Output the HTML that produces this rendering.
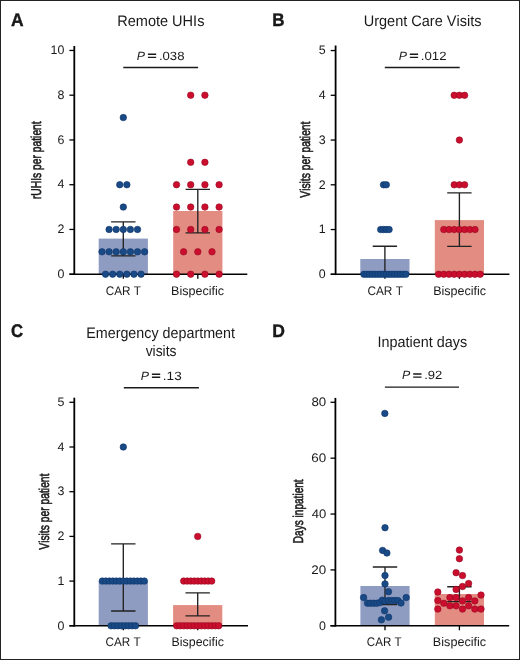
<!DOCTYPE html><html><head><meta charset="utf-8"><title>Figure</title><style>
html,body{margin:0;padding:0;background:#fff;}
body{width:520px;height:660px;overflow:hidden;position:relative;}
.frame{position:absolute;left:0;top:0;width:518px;height:658px;border:1px solid #232323;}
svg{position:absolute;left:0;top:0;display:block;will-change:transform;}
text{font-family:"Liberation Sans",sans-serif;fill:#1a1a1a;font-kerning:none;text-rendering:geometricPrecision;}
</style></head><body><svg width="520" height="660" viewBox="0 0 520 660">
<rect x="0" y="0" width="520" height="660" fill="#fff"/>
<rect x="98.70" y="238.60" width="49.20" height="35.60" fill="#8f9cc2"/>
<rect x="173.20" y="211.00" width="49.20" height="63.20" fill="#e38c81"/>
<path d="M123.30 221.90V255.80M111.10 221.90H135.50M111.10 255.80H135.50" stroke="#222" stroke-width="1.35" fill="none"/>
<path d="M197.80 189.40V232.90M185.60 189.40H210.00M185.60 232.90H210.00" stroke="#222" stroke-width="1.35" fill="none"/>
<path d="M74.30 46.00V275.00" stroke="#000" stroke-width="1.8" fill="none"/>
<path d="M69.40 274.20H247.30" stroke="#000" stroke-width="1.6" fill="none"/>
<path d="M69.40 274.20H74.30" stroke="#000" stroke-width="1.3" fill="none"/>
<path d="M69.40 229.45H74.30" stroke="#000" stroke-width="1.3" fill="none"/>
<path d="M69.40 184.70H74.30" stroke="#000" stroke-width="1.3" fill="none"/>
<path d="M69.40 139.95H74.30" stroke="#000" stroke-width="1.3" fill="none"/>
<path d="M69.40 95.20H74.30" stroke="#000" stroke-width="1.3" fill="none"/>
<path d="M69.40 50.45H74.30" stroke="#000" stroke-width="1.3" fill="none"/>
<path d="M123.30 274.20V278.70" stroke="#000" stroke-width="1.3" fill="none"/>
<path d="M197.80 274.20V278.70" stroke="#000" stroke-width="1.3" fill="none"/>
<text x="64.40" y="277.90" text-anchor="end" font-size="12.4">0</text>
<text x="64.40" y="233.15" text-anchor="end" font-size="12.4">2</text>
<text x="64.40" y="188.40" text-anchor="end" font-size="12.4">4</text>
<text x="64.40" y="143.65" text-anchor="end" font-size="12.4">6</text>
<text x="64.40" y="98.90" text-anchor="end" font-size="12.4">8</text>
<text x="64.40" y="54.15" text-anchor="end" font-size="12.4">10</text>
<path d="M123.30 67.50H198.10" stroke="#1a1a1a" stroke-width="1.4" fill="none"/>
<circle cx="123.30" cy="117.57" r="3.25" fill="#194a86" stroke="#0e3468" stroke-width="0.6"/>
<circle cx="119.75" cy="184.70" r="3.25" fill="#194a86" stroke="#0e3468" stroke-width="0.6"/>
<circle cx="126.85" cy="184.70" r="3.25" fill="#194a86" stroke="#0e3468" stroke-width="0.6"/>
<circle cx="123.30" cy="207.07" r="3.25" fill="#194a86" stroke="#0e3468" stroke-width="0.6"/>
<circle cx="109.10" cy="229.45" r="3.25" fill="#194a86" stroke="#0e3468" stroke-width="0.6"/>
<circle cx="116.20" cy="229.45" r="3.25" fill="#194a86" stroke="#0e3468" stroke-width="0.6"/>
<circle cx="123.30" cy="229.45" r="3.25" fill="#194a86" stroke="#0e3468" stroke-width="0.6"/>
<circle cx="130.40" cy="229.45" r="3.25" fill="#194a86" stroke="#0e3468" stroke-width="0.6"/>
<circle cx="137.50" cy="229.45" r="3.25" fill="#194a86" stroke="#0e3468" stroke-width="0.6"/>
<circle cx="102.00" cy="251.82" r="3.25" fill="#194a86" stroke="#0e3468" stroke-width="0.6"/>
<circle cx="109.10" cy="251.82" r="3.25" fill="#194a86" stroke="#0e3468" stroke-width="0.6"/>
<circle cx="116.20" cy="251.82" r="3.25" fill="#194a86" stroke="#0e3468" stroke-width="0.6"/>
<circle cx="123.30" cy="251.82" r="3.25" fill="#194a86" stroke="#0e3468" stroke-width="0.6"/>
<circle cx="130.40" cy="251.82" r="3.25" fill="#194a86" stroke="#0e3468" stroke-width="0.6"/>
<circle cx="137.50" cy="251.82" r="3.25" fill="#194a86" stroke="#0e3468" stroke-width="0.6"/>
<circle cx="144.60" cy="251.82" r="3.25" fill="#194a86" stroke="#0e3468" stroke-width="0.6"/>
<circle cx="105.55" cy="274.20" r="3.25" fill="#194a86" stroke="#0e3468" stroke-width="0.6"/>
<circle cx="112.65" cy="274.20" r="3.25" fill="#194a86" stroke="#0e3468" stroke-width="0.6"/>
<circle cx="119.75" cy="274.20" r="3.25" fill="#194a86" stroke="#0e3468" stroke-width="0.6"/>
<circle cx="126.85" cy="274.20" r="3.25" fill="#194a86" stroke="#0e3468" stroke-width="0.6"/>
<circle cx="133.95" cy="274.20" r="3.25" fill="#194a86" stroke="#0e3468" stroke-width="0.6"/>
<circle cx="141.05" cy="274.20" r="3.25" fill="#194a86" stroke="#0e3468" stroke-width="0.6"/>
<circle cx="190.70" cy="95.20" r="3.25" fill="#cc0e2e" stroke="#960a22" stroke-width="0.6"/>
<circle cx="204.90" cy="95.20" r="3.25" fill="#cc0e2e" stroke="#960a22" stroke-width="0.6"/>
<circle cx="190.70" cy="162.32" r="3.25" fill="#cc0e2e" stroke="#960a22" stroke-width="0.6"/>
<circle cx="204.90" cy="162.32" r="3.25" fill="#cc0e2e" stroke="#960a22" stroke-width="0.6"/>
<circle cx="176.50" cy="184.70" r="3.25" fill="#cc0e2e" stroke="#960a22" stroke-width="0.6"/>
<circle cx="190.70" cy="184.70" r="3.25" fill="#cc0e2e" stroke="#960a22" stroke-width="0.6"/>
<circle cx="204.90" cy="184.70" r="3.25" fill="#cc0e2e" stroke="#960a22" stroke-width="0.6"/>
<circle cx="219.10" cy="184.70" r="3.25" fill="#cc0e2e" stroke="#960a22" stroke-width="0.6"/>
<circle cx="176.50" cy="207.07" r="3.25" fill="#cc0e2e" stroke="#960a22" stroke-width="0.6"/>
<circle cx="190.70" cy="207.07" r="3.25" fill="#cc0e2e" stroke="#960a22" stroke-width="0.6"/>
<circle cx="204.90" cy="207.07" r="3.25" fill="#cc0e2e" stroke="#960a22" stroke-width="0.6"/>
<circle cx="219.10" cy="207.07" r="3.25" fill="#cc0e2e" stroke="#960a22" stroke-width="0.6"/>
<circle cx="176.50" cy="229.45" r="3.25" fill="#cc0e2e" stroke="#960a22" stroke-width="0.6"/>
<circle cx="190.70" cy="229.45" r="3.25" fill="#cc0e2e" stroke="#960a22" stroke-width="0.6"/>
<circle cx="204.90" cy="229.45" r="3.25" fill="#cc0e2e" stroke="#960a22" stroke-width="0.6"/>
<circle cx="219.10" cy="229.45" r="3.25" fill="#cc0e2e" stroke="#960a22" stroke-width="0.6"/>
<circle cx="183.60" cy="251.82" r="3.25" fill="#cc0e2e" stroke="#960a22" stroke-width="0.6"/>
<circle cx="197.80" cy="251.82" r="3.25" fill="#cc0e2e" stroke="#960a22" stroke-width="0.6"/>
<circle cx="212.00" cy="251.82" r="3.25" fill="#cc0e2e" stroke="#960a22" stroke-width="0.6"/>
<circle cx="176.50" cy="274.20" r="3.25" fill="#cc0e2e" stroke="#960a22" stroke-width="0.6"/>
<circle cx="190.70" cy="274.20" r="3.25" fill="#cc0e2e" stroke="#960a22" stroke-width="0.6"/>
<circle cx="204.90" cy="274.20" r="3.25" fill="#cc0e2e" stroke="#960a22" stroke-width="0.6"/>
<circle cx="219.10" cy="274.20" r="3.25" fill="#cc0e2e" stroke="#960a22" stroke-width="0.6"/>
<text x="136.82" y="59.60" font-size="12" font-style="italic" textLength="8.26" lengthAdjust="spacingAndGlyphs" >P</text>
<path d="M147.90 54.30H156.20M147.90 57.40H156.20" stroke="#1a1a1a" stroke-width="1.4" fill="none"/>
<text x="158.90" y="59.60" font-size="12" textLength="25.57" lengthAdjust="spacingAndGlyphs" >.038</text>
<text x="105.70" y="294.60" font-size="12.5" textLength="35.27" lengthAdjust="spacingAndGlyphs" >CAR T</text>
<text x="171.07" y="294.60" font-size="12.5" textLength="52.96" lengthAdjust="spacingAndGlyphs" >Bispecific</text>
<rect x="360.30" y="259.00" width="49.20" height="15.30" fill="#8f9cc2"/>
<rect x="434.80" y="220.10" width="49.20" height="54.20" fill="#e38c81"/>
<path d="M384.90 246.20V274.30M372.70 246.20H397.10M372.70 274.30H397.10" stroke="#222" stroke-width="1.35" fill="none"/>
<path d="M459.40 192.80V246.30M447.20 192.80H471.60M447.20 246.30H471.60" stroke="#222" stroke-width="1.35" fill="none"/>
<path d="M335.60 45.50V275.10" stroke="#000" stroke-width="1.8" fill="none"/>
<path d="M330.70 274.30H509.40" stroke="#000" stroke-width="1.6" fill="none"/>
<path d="M330.70 274.30H335.60" stroke="#000" stroke-width="1.3" fill="none"/>
<path d="M330.70 229.55H335.60" stroke="#000" stroke-width="1.3" fill="none"/>
<path d="M330.70 184.80H335.60" stroke="#000" stroke-width="1.3" fill="none"/>
<path d="M330.70 140.05H335.60" stroke="#000" stroke-width="1.3" fill="none"/>
<path d="M330.70 95.30H335.60" stroke="#000" stroke-width="1.3" fill="none"/>
<path d="M330.70 50.55H335.60" stroke="#000" stroke-width="1.3" fill="none"/>
<path d="M384.90 274.30V278.80" stroke="#000" stroke-width="1.3" fill="none"/>
<path d="M459.40 274.30V278.80" stroke="#000" stroke-width="1.3" fill="none"/>
<text x="325.70" y="278.00" text-anchor="end" font-size="12.4">0</text>
<text x="325.70" y="233.25" text-anchor="end" font-size="12.4">1</text>
<text x="325.70" y="188.50" text-anchor="end" font-size="12.4">2</text>
<text x="325.70" y="143.75" text-anchor="end" font-size="12.4">3</text>
<text x="325.70" y="99.00" text-anchor="end" font-size="12.4">4</text>
<text x="325.70" y="54.25" text-anchor="end" font-size="12.4">5</text>
<path d="M384.80 67.50H459.70" stroke="#1a1a1a" stroke-width="1.4" fill="none"/>
<circle cx="383.50" cy="184.80" r="3.25" fill="#194a86" stroke="#0e3468" stroke-width="0.6"/>
<circle cx="386.30" cy="184.80" r="3.25" fill="#194a86" stroke="#0e3468" stroke-width="0.6"/>
<circle cx="380.70" cy="229.55" r="3.25" fill="#194a86" stroke="#0e3468" stroke-width="0.6"/>
<circle cx="383.50" cy="229.55" r="3.25" fill="#194a86" stroke="#0e3468" stroke-width="0.6"/>
<circle cx="386.30" cy="229.55" r="3.25" fill="#194a86" stroke="#0e3468" stroke-width="0.6"/>
<circle cx="389.10" cy="229.55" r="3.25" fill="#194a86" stroke="#0e3468" stroke-width="0.6"/>
<circle cx="363.90" cy="274.30" r="3.25" fill="#194a86" stroke="#0e3468" stroke-width="0.6"/>
<circle cx="366.70" cy="274.30" r="3.25" fill="#194a86" stroke="#0e3468" stroke-width="0.6"/>
<circle cx="369.50" cy="274.30" r="3.25" fill="#194a86" stroke="#0e3468" stroke-width="0.6"/>
<circle cx="372.30" cy="274.30" r="3.25" fill="#194a86" stroke="#0e3468" stroke-width="0.6"/>
<circle cx="375.10" cy="274.30" r="3.25" fill="#194a86" stroke="#0e3468" stroke-width="0.6"/>
<circle cx="377.90" cy="274.30" r="3.25" fill="#194a86" stroke="#0e3468" stroke-width="0.6"/>
<circle cx="380.70" cy="274.30" r="3.25" fill="#194a86" stroke="#0e3468" stroke-width="0.6"/>
<circle cx="383.50" cy="274.30" r="3.25" fill="#194a86" stroke="#0e3468" stroke-width="0.6"/>
<circle cx="386.30" cy="274.30" r="3.25" fill="#194a86" stroke="#0e3468" stroke-width="0.6"/>
<circle cx="389.10" cy="274.30" r="3.25" fill="#194a86" stroke="#0e3468" stroke-width="0.6"/>
<circle cx="391.90" cy="274.30" r="3.25" fill="#194a86" stroke="#0e3468" stroke-width="0.6"/>
<circle cx="394.70" cy="274.30" r="3.25" fill="#194a86" stroke="#0e3468" stroke-width="0.6"/>
<circle cx="397.50" cy="274.30" r="3.25" fill="#194a86" stroke="#0e3468" stroke-width="0.6"/>
<circle cx="400.30" cy="274.30" r="3.25" fill="#194a86" stroke="#0e3468" stroke-width="0.6"/>
<circle cx="403.10" cy="274.30" r="3.25" fill="#194a86" stroke="#0e3468" stroke-width="0.6"/>
<circle cx="405.90" cy="274.30" r="3.25" fill="#194a86" stroke="#0e3468" stroke-width="0.6"/>
<circle cx="454.20" cy="95.30" r="3.25" fill="#cc0e2e" stroke="#960a22" stroke-width="0.6"/>
<circle cx="459.40" cy="95.30" r="3.25" fill="#cc0e2e" stroke="#960a22" stroke-width="0.6"/>
<circle cx="464.60" cy="95.30" r="3.25" fill="#cc0e2e" stroke="#960a22" stroke-width="0.6"/>
<circle cx="459.40" cy="140.05" r="3.25" fill="#cc0e2e" stroke="#960a22" stroke-width="0.6"/>
<circle cx="454.20" cy="184.80" r="3.25" fill="#cc0e2e" stroke="#960a22" stroke-width="0.6"/>
<circle cx="459.40" cy="184.80" r="3.25" fill="#cc0e2e" stroke="#960a22" stroke-width="0.6"/>
<circle cx="464.60" cy="184.80" r="3.25" fill="#cc0e2e" stroke="#960a22" stroke-width="0.6"/>
<circle cx="443.80" cy="229.55" r="3.25" fill="#cc0e2e" stroke="#960a22" stroke-width="0.6"/>
<circle cx="449.00" cy="229.55" r="3.25" fill="#cc0e2e" stroke="#960a22" stroke-width="0.6"/>
<circle cx="454.20" cy="229.55" r="3.25" fill="#cc0e2e" stroke="#960a22" stroke-width="0.6"/>
<circle cx="459.40" cy="229.55" r="3.25" fill="#cc0e2e" stroke="#960a22" stroke-width="0.6"/>
<circle cx="464.60" cy="229.55" r="3.25" fill="#cc0e2e" stroke="#960a22" stroke-width="0.6"/>
<circle cx="469.80" cy="229.55" r="3.25" fill="#cc0e2e" stroke="#960a22" stroke-width="0.6"/>
<circle cx="475.00" cy="229.55" r="3.25" fill="#cc0e2e" stroke="#960a22" stroke-width="0.6"/>
<circle cx="438.60" cy="274.30" r="3.25" fill="#cc0e2e" stroke="#960a22" stroke-width="0.6"/>
<circle cx="443.80" cy="274.30" r="3.25" fill="#cc0e2e" stroke="#960a22" stroke-width="0.6"/>
<circle cx="449.00" cy="274.30" r="3.25" fill="#cc0e2e" stroke="#960a22" stroke-width="0.6"/>
<circle cx="454.20" cy="274.30" r="3.25" fill="#cc0e2e" stroke="#960a22" stroke-width="0.6"/>
<circle cx="459.40" cy="274.30" r="3.25" fill="#cc0e2e" stroke="#960a22" stroke-width="0.6"/>
<circle cx="464.60" cy="274.30" r="3.25" fill="#cc0e2e" stroke="#960a22" stroke-width="0.6"/>
<circle cx="469.80" cy="274.30" r="3.25" fill="#cc0e2e" stroke="#960a22" stroke-width="0.6"/>
<circle cx="475.00" cy="274.30" r="3.25" fill="#cc0e2e" stroke="#960a22" stroke-width="0.6"/>
<circle cx="480.20" cy="274.30" r="3.25" fill="#cc0e2e" stroke="#960a22" stroke-width="0.6"/>
<text x="398.72" y="59.60" font-size="12" font-style="italic" textLength="8.26" lengthAdjust="spacingAndGlyphs" >P</text>
<path d="M409.80 54.30H418.10M409.80 57.40H418.10" stroke="#1a1a1a" stroke-width="1.4" fill="none"/>
<text x="420.80" y="59.60" font-size="12" textLength="25.67" lengthAdjust="spacingAndGlyphs" >.012</text>
<text x="367.40" y="294.70" font-size="12.5" textLength="35.47" lengthAdjust="spacingAndGlyphs" >CAR T</text>
<text x="433.17" y="294.70" font-size="12.5" textLength="52.96" lengthAdjust="spacingAndGlyphs" >Bispecific</text>
<rect x="98.70" y="581.00" width="49.20" height="44.80" fill="#8f9cc2"/>
<rect x="173.10" y="605.10" width="49.20" height="20.70" fill="#e38c81"/>
<path d="M123.30 543.80V611.00M111.10 543.80H135.50M111.10 611.00H135.50" stroke="#222" stroke-width="1.35" fill="none"/>
<path d="M197.70 592.90V615.90M185.50 592.90H209.90M185.50 615.90H209.90" stroke="#222" stroke-width="1.35" fill="none"/>
<path d="M74.30 397.70V626.60" stroke="#000" stroke-width="1.8" fill="none"/>
<path d="M69.40 625.80H248.00" stroke="#000" stroke-width="1.6" fill="none"/>
<path d="M69.40 625.80H74.30" stroke="#000" stroke-width="1.3" fill="none"/>
<path d="M69.40 581.10H74.30" stroke="#000" stroke-width="1.3" fill="none"/>
<path d="M69.40 536.40H74.30" stroke="#000" stroke-width="1.3" fill="none"/>
<path d="M69.40 491.70H74.30" stroke="#000" stroke-width="1.3" fill="none"/>
<path d="M69.40 447.00H74.30" stroke="#000" stroke-width="1.3" fill="none"/>
<path d="M69.40 402.30H74.30" stroke="#000" stroke-width="1.3" fill="none"/>
<path d="M123.30 625.80V630.30" stroke="#000" stroke-width="1.3" fill="none"/>
<path d="M197.70 625.80V630.30" stroke="#000" stroke-width="1.3" fill="none"/>
<text x="64.40" y="629.50" text-anchor="end" font-size="12.4">0</text>
<text x="64.40" y="584.80" text-anchor="end" font-size="12.4">1</text>
<text x="64.40" y="540.10" text-anchor="end" font-size="12.4">2</text>
<text x="64.40" y="495.40" text-anchor="end" font-size="12.4">3</text>
<text x="64.40" y="450.70" text-anchor="end" font-size="12.4">4</text>
<text x="64.40" y="406.00" text-anchor="end" font-size="12.4">5</text>
<path d="M123.80 387.80H198.90" stroke="#1a1a1a" stroke-width="1.4" fill="none"/>
<circle cx="123.30" cy="447.00" r="3.25" fill="#194a86" stroke="#0e3468" stroke-width="0.6"/>
<circle cx="102.30" cy="581.10" r="3.25" fill="#194a86" stroke="#0e3468" stroke-width="0.6"/>
<circle cx="105.80" cy="581.10" r="3.25" fill="#194a86" stroke="#0e3468" stroke-width="0.6"/>
<circle cx="109.30" cy="581.10" r="3.25" fill="#194a86" stroke="#0e3468" stroke-width="0.6"/>
<circle cx="112.80" cy="581.10" r="3.25" fill="#194a86" stroke="#0e3468" stroke-width="0.6"/>
<circle cx="116.30" cy="581.10" r="3.25" fill="#194a86" stroke="#0e3468" stroke-width="0.6"/>
<circle cx="119.80" cy="581.10" r="3.25" fill="#194a86" stroke="#0e3468" stroke-width="0.6"/>
<circle cx="123.30" cy="581.10" r="3.25" fill="#194a86" stroke="#0e3468" stroke-width="0.6"/>
<circle cx="126.80" cy="581.10" r="3.25" fill="#194a86" stroke="#0e3468" stroke-width="0.6"/>
<circle cx="130.30" cy="581.10" r="3.25" fill="#194a86" stroke="#0e3468" stroke-width="0.6"/>
<circle cx="133.80" cy="581.10" r="3.25" fill="#194a86" stroke="#0e3468" stroke-width="0.6"/>
<circle cx="137.30" cy="581.10" r="3.25" fill="#194a86" stroke="#0e3468" stroke-width="0.6"/>
<circle cx="140.80" cy="581.10" r="3.25" fill="#194a86" stroke="#0e3468" stroke-width="0.6"/>
<circle cx="144.30" cy="581.10" r="3.25" fill="#194a86" stroke="#0e3468" stroke-width="0.6"/>
<circle cx="111.05" cy="625.80" r="3.25" fill="#194a86" stroke="#0e3468" stroke-width="0.6"/>
<circle cx="114.55" cy="625.80" r="3.25" fill="#194a86" stroke="#0e3468" stroke-width="0.6"/>
<circle cx="118.05" cy="625.80" r="3.25" fill="#194a86" stroke="#0e3468" stroke-width="0.6"/>
<circle cx="121.55" cy="625.80" r="3.25" fill="#194a86" stroke="#0e3468" stroke-width="0.6"/>
<circle cx="125.05" cy="625.80" r="3.25" fill="#194a86" stroke="#0e3468" stroke-width="0.6"/>
<circle cx="128.55" cy="625.80" r="3.25" fill="#194a86" stroke="#0e3468" stroke-width="0.6"/>
<circle cx="132.05" cy="625.80" r="3.25" fill="#194a86" stroke="#0e3468" stroke-width="0.6"/>
<circle cx="135.55" cy="625.80" r="3.25" fill="#194a86" stroke="#0e3468" stroke-width="0.6"/>
<circle cx="197.70" cy="536.40" r="3.25" fill="#cc0e2e" stroke="#960a22" stroke-width="0.6"/>
<circle cx="183.70" cy="581.10" r="3.25" fill="#cc0e2e" stroke="#960a22" stroke-width="0.6"/>
<circle cx="187.20" cy="581.10" r="3.25" fill="#cc0e2e" stroke="#960a22" stroke-width="0.6"/>
<circle cx="190.70" cy="581.10" r="3.25" fill="#cc0e2e" stroke="#960a22" stroke-width="0.6"/>
<circle cx="194.20" cy="581.10" r="3.25" fill="#cc0e2e" stroke="#960a22" stroke-width="0.6"/>
<circle cx="197.70" cy="581.10" r="3.25" fill="#cc0e2e" stroke="#960a22" stroke-width="0.6"/>
<circle cx="201.20" cy="581.10" r="3.25" fill="#cc0e2e" stroke="#960a22" stroke-width="0.6"/>
<circle cx="204.70" cy="581.10" r="3.25" fill="#cc0e2e" stroke="#960a22" stroke-width="0.6"/>
<circle cx="208.20" cy="581.10" r="3.25" fill="#cc0e2e" stroke="#960a22" stroke-width="0.6"/>
<circle cx="211.70" cy="581.10" r="3.25" fill="#cc0e2e" stroke="#960a22" stroke-width="0.6"/>
<circle cx="176.70" cy="625.80" r="3.25" fill="#cc0e2e" stroke="#960a22" stroke-width="0.6"/>
<circle cx="180.20" cy="625.80" r="3.25" fill="#cc0e2e" stroke="#960a22" stroke-width="0.6"/>
<circle cx="183.70" cy="625.80" r="3.25" fill="#cc0e2e" stroke="#960a22" stroke-width="0.6"/>
<circle cx="187.20" cy="625.80" r="3.25" fill="#cc0e2e" stroke="#960a22" stroke-width="0.6"/>
<circle cx="190.70" cy="625.80" r="3.25" fill="#cc0e2e" stroke="#960a22" stroke-width="0.6"/>
<circle cx="194.20" cy="625.80" r="3.25" fill="#cc0e2e" stroke="#960a22" stroke-width="0.6"/>
<circle cx="197.70" cy="625.80" r="3.25" fill="#cc0e2e" stroke="#960a22" stroke-width="0.6"/>
<circle cx="201.20" cy="625.80" r="3.25" fill="#cc0e2e" stroke="#960a22" stroke-width="0.6"/>
<circle cx="204.70" cy="625.80" r="3.25" fill="#cc0e2e" stroke="#960a22" stroke-width="0.6"/>
<circle cx="208.20" cy="625.80" r="3.25" fill="#cc0e2e" stroke="#960a22" stroke-width="0.6"/>
<circle cx="211.70" cy="625.80" r="3.25" fill="#cc0e2e" stroke="#960a22" stroke-width="0.6"/>
<circle cx="215.20" cy="625.80" r="3.25" fill="#cc0e2e" stroke="#960a22" stroke-width="0.6"/>
<circle cx="218.70" cy="625.80" r="3.25" fill="#cc0e2e" stroke="#960a22" stroke-width="0.6"/>
<text x="140.82" y="379.50" font-size="12" font-style="italic" textLength="8.26" lengthAdjust="spacingAndGlyphs" >P</text>
<path d="M151.90 374.20H160.20M151.90 377.30H160.20" stroke="#1a1a1a" stroke-width="1.4" fill="none"/>
<text x="162.86" y="379.50" font-size="12" textLength="18.83" lengthAdjust="spacingAndGlyphs" >.13</text>
<text x="105.51" y="646.40" font-size="12.5" textLength="35.06" lengthAdjust="spacingAndGlyphs" >CAR T</text>
<text x="171.58" y="646.40" font-size="12.5" textLength="52.34" lengthAdjust="spacingAndGlyphs" >Bispecific</text>
<rect x="360.40" y="586.00" width="49.20" height="39.80" fill="#8f9cc2"/>
<rect x="434.80" y="594.00" width="49.20" height="31.80" fill="#e38c81"/>
<path d="M385.00 567.00V604.60M372.80 567.00H397.20M372.80 604.60H397.20" stroke="#222" stroke-width="1.35" fill="none"/>
<path d="M459.40 586.70V601.60M447.20 586.70H471.60M447.20 601.60H471.60" stroke="#222" stroke-width="1.35" fill="none"/>
<path d="M335.40 397.90V626.60" stroke="#000" stroke-width="1.8" fill="none"/>
<path d="M330.50 625.80H509.20" stroke="#000" stroke-width="1.6" fill="none"/>
<path d="M330.50 625.80H335.40" stroke="#000" stroke-width="1.3" fill="none"/>
<path d="M330.50 569.92H335.40" stroke="#000" stroke-width="1.3" fill="none"/>
<path d="M330.50 514.04H335.40" stroke="#000" stroke-width="1.3" fill="none"/>
<path d="M330.50 458.16H335.40" stroke="#000" stroke-width="1.3" fill="none"/>
<path d="M330.50 402.28H335.40" stroke="#000" stroke-width="1.3" fill="none"/>
<path d="M385.00 625.80V630.30" stroke="#000" stroke-width="1.3" fill="none"/>
<path d="M459.40 625.80V630.30" stroke="#000" stroke-width="1.3" fill="none"/>
<text x="326.00" y="629.50" text-anchor="end" font-size="12.4">0</text>
<text x="311.33" y="573.62" font-size="12.4" textLength="14.90" lengthAdjust="spacingAndGlyphs" >20</text>
<text x="311.70" y="517.74" font-size="12.4" textLength="14.51" lengthAdjust="spacingAndGlyphs" >40</text>
<text x="311.32" y="461.86" font-size="12.4" textLength="14.90" lengthAdjust="spacingAndGlyphs" >60</text>
<text x="311.42" y="405.98" font-size="12.4" textLength="14.80" lengthAdjust="spacingAndGlyphs" >80</text>
<path d="M384.90 387.10H459.00" stroke="#1a1a1a" stroke-width="1.4" fill="none"/>
<circle cx="384.80" cy="413.40" r="3.25" fill="#194a86" stroke="#0e3468" stroke-width="0.6"/>
<circle cx="385.00" cy="527.70" r="3.25" fill="#194a86" stroke="#0e3468" stroke-width="0.6"/>
<circle cx="382.60" cy="550.40" r="3.25" fill="#194a86" stroke="#0e3468" stroke-width="0.6"/>
<circle cx="386.90" cy="553.00" r="3.25" fill="#194a86" stroke="#0e3468" stroke-width="0.6"/>
<circle cx="385.00" cy="575.50" r="3.25" fill="#194a86" stroke="#0e3468" stroke-width="0.6"/>
<circle cx="385.00" cy="583.90" r="3.25" fill="#194a86" stroke="#0e3468" stroke-width="0.6"/>
<circle cx="388.50" cy="591.70" r="3.25" fill="#194a86" stroke="#0e3468" stroke-width="0.6"/>
<circle cx="363.60" cy="597.50" r="3.25" fill="#194a86" stroke="#0e3468" stroke-width="0.6"/>
<circle cx="406.20" cy="597.60" r="3.25" fill="#194a86" stroke="#0e3468" stroke-width="0.6"/>
<circle cx="367.50" cy="603.20" r="3.25" fill="#194a86" stroke="#0e3468" stroke-width="0.6"/>
<circle cx="370.60" cy="603.20" r="3.25" fill="#194a86" stroke="#0e3468" stroke-width="0.6"/>
<circle cx="373.70" cy="603.20" r="3.25" fill="#194a86" stroke="#0e3468" stroke-width="0.6"/>
<circle cx="376.80" cy="603.20" r="3.25" fill="#194a86" stroke="#0e3468" stroke-width="0.6"/>
<circle cx="379.90" cy="602.60" r="3.25" fill="#194a86" stroke="#0e3468" stroke-width="0.6"/>
<circle cx="382.30" cy="600.20" r="3.25" fill="#194a86" stroke="#0e3468" stroke-width="0.6"/>
<circle cx="385.20" cy="601.00" r="3.25" fill="#194a86" stroke="#0e3468" stroke-width="0.6"/>
<circle cx="388.60" cy="600.50" r="3.25" fill="#194a86" stroke="#0e3468" stroke-width="0.6"/>
<circle cx="391.70" cy="600.50" r="3.25" fill="#194a86" stroke="#0e3468" stroke-width="0.6"/>
<circle cx="394.80" cy="600.50" r="3.25" fill="#194a86" stroke="#0e3468" stroke-width="0.6"/>
<circle cx="397.90" cy="600.60" r="3.25" fill="#194a86" stroke="#0e3468" stroke-width="0.6"/>
<circle cx="401.00" cy="603.00" r="3.25" fill="#194a86" stroke="#0e3468" stroke-width="0.6"/>
<circle cx="384.60" cy="610.80" r="3.25" fill="#194a86" stroke="#0e3468" stroke-width="0.6"/>
<circle cx="388.60" cy="617.20" r="3.25" fill="#194a86" stroke="#0e3468" stroke-width="0.6"/>
<circle cx="381.40" cy="619.80" r="3.25" fill="#194a86" stroke="#0e3468" stroke-width="0.6"/>
<circle cx="459.40" cy="550.10" r="3.25" fill="#cc0e2e" stroke="#960a22" stroke-width="0.6"/>
<circle cx="459.40" cy="558.70" r="3.25" fill="#cc0e2e" stroke="#960a22" stroke-width="0.6"/>
<circle cx="456.10" cy="572.70" r="3.25" fill="#cc0e2e" stroke="#960a22" stroke-width="0.6"/>
<circle cx="462.50" cy="575.60" r="3.25" fill="#cc0e2e" stroke="#960a22" stroke-width="0.6"/>
<circle cx="468.60" cy="583.50" r="3.25" fill="#cc0e2e" stroke="#960a22" stroke-width="0.6"/>
<circle cx="462.50" cy="586.50" r="3.25" fill="#cc0e2e" stroke="#960a22" stroke-width="0.6"/>
<circle cx="456.10" cy="589.40" r="3.25" fill="#cc0e2e" stroke="#960a22" stroke-width="0.6"/>
<circle cx="437.80" cy="592.00" r="3.25" fill="#cc0e2e" stroke="#960a22" stroke-width="0.6"/>
<circle cx="481.00" cy="595.10" r="3.25" fill="#cc0e2e" stroke="#960a22" stroke-width="0.6"/>
<circle cx="449.90" cy="597.60" r="3.25" fill="#cc0e2e" stroke="#960a22" stroke-width="0.6"/>
<circle cx="456.10" cy="597.60" r="3.25" fill="#cc0e2e" stroke="#960a22" stroke-width="0.6"/>
<circle cx="468.60" cy="597.60" r="3.25" fill="#cc0e2e" stroke="#960a22" stroke-width="0.6"/>
<circle cx="437.80" cy="600.50" r="3.25" fill="#cc0e2e" stroke="#960a22" stroke-width="0.6"/>
<circle cx="462.50" cy="600.90" r="3.25" fill="#cc0e2e" stroke="#960a22" stroke-width="0.6"/>
<circle cx="474.80" cy="600.90" r="3.25" fill="#cc0e2e" stroke="#960a22" stroke-width="0.6"/>
<circle cx="443.80" cy="603.30" r="3.25" fill="#cc0e2e" stroke="#960a22" stroke-width="0.6"/>
<circle cx="449.90" cy="605.80" r="3.25" fill="#cc0e2e" stroke="#960a22" stroke-width="0.6"/>
<circle cx="456.10" cy="605.80" r="3.25" fill="#cc0e2e" stroke="#960a22" stroke-width="0.6"/>
<circle cx="468.60" cy="605.80" r="3.25" fill="#cc0e2e" stroke="#960a22" stroke-width="0.6"/>
<circle cx="437.80" cy="609.10" r="3.25" fill="#cc0e2e" stroke="#960a22" stroke-width="0.6"/>
<circle cx="462.50" cy="609.10" r="3.25" fill="#cc0e2e" stroke="#960a22" stroke-width="0.6"/>
<circle cx="474.80" cy="609.10" r="3.25" fill="#cc0e2e" stroke="#960a22" stroke-width="0.6"/>
<circle cx="481.00" cy="609.10" r="3.25" fill="#cc0e2e" stroke="#960a22" stroke-width="0.6"/>
<text x="402.12" y="379.30" font-size="12" font-style="italic" textLength="8.26" lengthAdjust="spacingAndGlyphs" >P</text>
<path d="M413.20 374.00H421.50M413.20 377.10H421.50" stroke="#1a1a1a" stroke-width="1.4" fill="none"/>
<text x="424.21" y="379.30" font-size="12" textLength="18.15" lengthAdjust="spacingAndGlyphs" >.92</text>
<text x="366.81" y="646.20" font-size="12.5" textLength="34.75" lengthAdjust="spacingAndGlyphs" >CAR T</text>
<text x="432.87" y="646.20" font-size="12.5" textLength="53.27" lengthAdjust="spacingAndGlyphs" >Bispecific</text>
<text x="10.89" y="25.90" font-size="18.3" font-weight="bold" textLength="12.59" lengthAdjust="spacingAndGlyphs" stroke="#000" stroke-width="0.35">A</text>
<text x="272.19" y="25.90" font-size="18.3" font-weight="bold" textLength="12.26" lengthAdjust="spacingAndGlyphs" stroke="#000" stroke-width="0.35">B</text>
<text x="11.09" y="337.40" font-size="18.3" font-weight="bold" textLength="12.09" lengthAdjust="spacingAndGlyphs" stroke="#000" stroke-width="0.35">C</text>
<text x="272.30" y="337.40" font-size="18.3" font-weight="bold" textLength="12.66" lengthAdjust="spacingAndGlyphs" stroke="#000" stroke-width="0.35">D</text>
<text x="117.21" y="25.80" font-size="15.2" textLength="87.22" lengthAdjust="spacingAndGlyphs" >Remote UHIs</text>
<text x="363.68" y="25.80" font-size="15.2" textLength="117.79" lengthAdjust="spacingAndGlyphs" >Urgent Care Visits</text>
<text x="86.23" y="337.90" font-size="15.2" textLength="148.78" lengthAdjust="spacingAndGlyphs" >Emergency department</text>
<text x="145.65" y="355.80" font-size="15.2" textLength="30.85" lengthAdjust="spacingAndGlyphs" >visits</text>
<text x="377.57" y="346.90" font-size="15.2" textLength="89.55" lengthAdjust="spacingAndGlyphs" >Inpatient days</text>
<text transform="translate(41.00,198.40) rotate(-90)" x="-0.68" y="0" font-size="14.2" textLength="77.76" lengthAdjust="spacingAndGlyphs" stroke="#1a1a1a" stroke-width="0.6">rUHIs per patient</text>
<text transform="translate(309.70,197.70) rotate(-90)" x="-0.05" y="0" font-size="14.2" textLength="76.22" lengthAdjust="spacingAndGlyphs" stroke="#1a1a1a" stroke-width="0.6">Visits per patient</text>
<text transform="translate(48.70,549.70) rotate(-90)" x="-0.05" y="0" font-size="14.2" textLength="76.22" lengthAdjust="spacingAndGlyphs" stroke="#1a1a1a" stroke-width="0.6">Visits per patient</text>
<text transform="translate(302.90,542.40) rotate(-90)" x="-0.83" y="0" font-size="14.2" textLength="63.90" lengthAdjust="spacingAndGlyphs" stroke="#1a1a1a" stroke-width="0.6">Days inpatient</text>
</svg><div class="frame"></div></body></html>
